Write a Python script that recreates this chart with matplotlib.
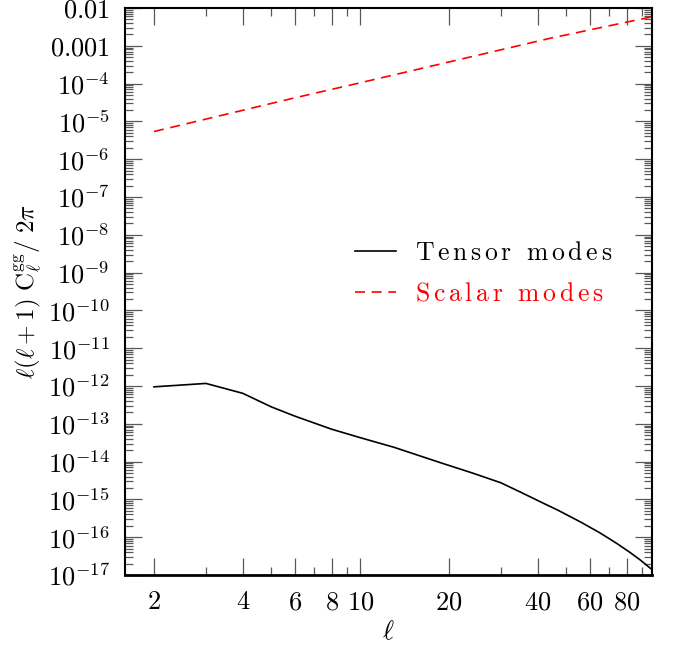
import numpy as np
import matplotlib
matplotlib.use("Agg")
import matplotlib.pyplot as plt
from matplotlib.ticker import FixedLocator, FuncFormatter, NullFormatter

plt.rcParams['mathtext.fontset'] = 'cm'
plt.rcParams['font.family'] = ['cmr10', 'DejaVu Serif']
plt.rcParams['axes.formatter.use_mathtext'] = True

# Data
tensor_l = [2, 3, 4, 5, 6, 8, 10, 13, 19, 24, 30, 35, 41, 47, 56, 65, 74, 82, 89, 98]
tensor_v = [9.5e-13, 1.17e-12, 6.4e-13, 2.8e-13, 1.6e-13, 7.2e-14, 4.3e-14,
            2.4e-14, 9.0e-15, 5.0e-15, 2.75e-15, 1.55e-15, 8.5e-16, 5.1e-16,
            2.5e-16, 1.3e-16, 6.9e-17, 4.0e-17, 2.5e-17, 1.35e-17]
scalar_l = [2, 6, 10, 44, 98]
scalar_v = [5.4e-6, 4.2e-5, 1.05e-4, 1.58e-3, 5.9e-3]

x_major = [2, 4, 6, 8, 10, 20, 40, 60, 80]
x_minor = [3, 5, 7, 9, 30, 50, 70, 90]
y_exps = list(range(-17, -1))

fig = plt.figure(figsize=(6.86, 6.49), dpi=100)
ax = fig.add_axes([125/686, 1-575/649, (652.3-125)/686, (575-8)/649])

sp = r'\,'
def spaced(word):
    return sp.join(word)

lab_t = r'$\mathrm{' + spaced('Tensor') + r'\ \ ' + spaced('modes') + '}$'
lab_s = r'$\mathrm{' + spaced('Scalar') + r'\ \ ' + spaced('modes') + '}$'

ax.plot(tensor_l, tensor_v, color='black', lw=1.2, label=lab_t)
ax.plot(scalar_l, scalar_v, color='red', lw=1.2, linestyle=(0, (6, 4)), label=lab_s)

ax.set_xscale('log')
ax.set_yscale('log')
ax.set_xlim(1.595, 97.8)
ax.set_ylim(1e-17, 1e-2)

ax.xaxis.set_major_locator(FixedLocator(x_major))
ax.xaxis.set_minor_locator(FixedLocator(x_minor))
ax.xaxis.set_major_formatter(FuncFormatter(lambda v, p: r'$%d$' % round(v)))
ax.xaxis.set_minor_formatter(NullFormatter())

ymaj = [10.0**e for e in y_exps]
ymin = [m * 10.0**e for e in range(-17, -2) for m in range(2, 10)]
ax.yaxis.set_major_locator(FixedLocator(ymaj))
ax.yaxis.set_minor_locator(FixedLocator(ymin))

def yfmt(v, p):
    e = int(round(np.log10(v)))
    if e == -2:
        return r'$0.01$'
    if e == -3:
        return r'$0.001$'
    return r'$10^{%d}$' % e

ax.yaxis.set_major_formatter(FuncFormatter(yfmt))
ax.yaxis.set_minor_formatter(NullFormatter())

ax.tick_params(which='both', direction='in', top=True, right=True, color='0.35')
ax.tick_params(which='major', length=12, width=0.9, labelsize=19)
ax.tick_params(which='minor', length=6, width=0.9)
ax.tick_params(axis='y', which='major', pad=11)
ax.tick_params(axis='x', which='major', pad=11)
for s in ax.spines.values():
    s.set_linewidth(1.5)
ax.spines['bottom'].set_linewidth(2)

ax.set_xlabel(r'$\ell$', fontsize=19)
ax.xaxis.set_label_coords(0.5, -(632-575)/567)
ax.xaxis.label.set_va('center')
ax.set_ylabel(r'$\ell(\ell+1)\ \mathrm{C}_\ell^{\mathrm{gg}}/\ 2\pi$', fontsize=18)
ax.yaxis.set_label_coords(-(125-44)/527.3, 0.5)

leg = ax.legend(loc='center left', bbox_to_anchor=((355-125)/527.3, (575-273.5)/567),
                frameon=False, fontsize=18.5, handlelength=1.6, handletextpad=0.75,
                labelspacing=0.65, borderaxespad=0, borderpad=0)
for t, c in zip(leg.get_texts(), ['black', 'red']):
    t.set_color(c)

fig.savefig('out.png', dpi=100)
